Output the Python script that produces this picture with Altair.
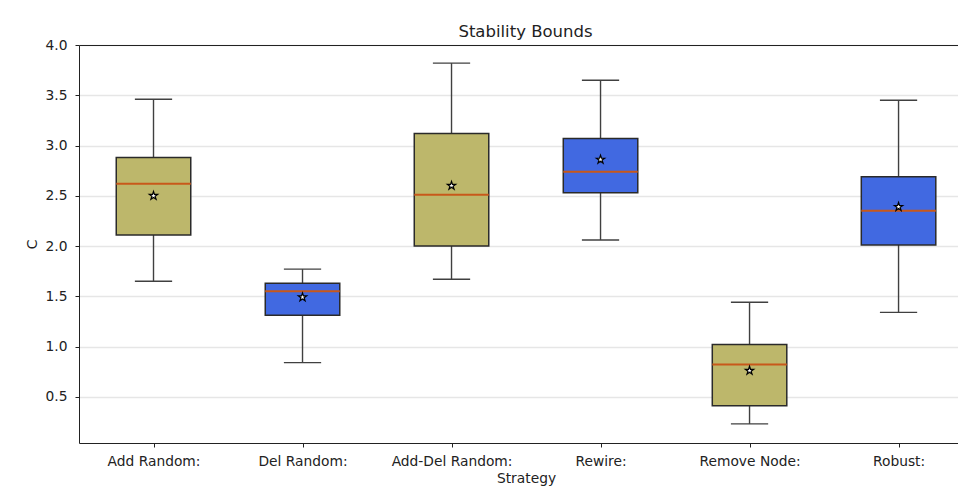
import json
import altair as alt
import pandas as pd

strategies = ["Add Random:", "Del Random:", "Add-Del Random:", "Rewire:", "Remove Node:", "Robust:"]
whisker_low = [1.65, 0.84, 1.67, 2.06, 0.23, 1.34]
q1 = [2.11, 1.31, 2.00, 2.53, 0.41, 2.01]
median = [2.62, 1.55, 2.51, 2.74, 0.82, 2.35]
q3 = [2.88, 1.63, 3.12, 3.07, 1.02, 2.69]
whisker_high = [3.46, 1.77, 3.82, 3.65, 1.44, 3.45]
means = [2.50, 1.49, 2.60, 2.86, 0.76, 2.39]
groups = ["olive", "blue", "olive", "blue", "olive", "blue"]
y_ticks = [0.5, 1.0, 1.5, 2.0, 2.5, 3.0, 3.5, 4.0]

df = pd.DataFrame({
    "strategy": strategies,
    "pos": list(range(1, len(strategies) + 1)),
    "wlo": whisker_low,
    "q1": q1,
    "med": median,
    "q3": q3,
    "whi": whisker_high,
    "mean": means,
    "group": groups,
})

FONT = "DejaVu Sans"
INK = "#2a2a2a"
WH = "#404040"

label_expr = json.dumps(strategies) + "[datum.value - 1]"
xscale = alt.Scale(domain=[0.5, 6.399], nice=False, zero=False)

x_main = alt.X("pos:Q", scale=xscale, title="Strategy",
               axis=alt.Axis(values=list(range(1, 7)), labelExpr=label_expr,
                             grid=False, orient="bottom", titleX=447,
                             domainColor="#222222", domainWidth=1,
                             tickColor="#222222", tickSize=4, tickWidth=1,
                             labelPadding=7, titlePadding=4))
x_top = alt.X("lo:Q", scale=xscale, title=None,
              axis=alt.Axis(orient="top", labels=False, ticks=False, grid=False,
                            domainColor="#222222", domainWidth=1))
x_none = lambda f: alt.X(f, scale=xscale, axis=None)

yscale = alt.Scale(domain=[0.04, 4.0], nice=False, zero=False)
y_axis = alt.Axis(values=y_ticks, format=".1f", grid=True, gridColor="#e6e6e6",
                  gridWidth=1.3, domainColor="#222222", domainWidth=1,
                  tickColor="#222222", tickSize=4, tickWidth=1, labelPadding=8,
                  titlePadding=6)

def Y(f):
    return alt.Y(f, scale=yscale, axis=y_axis, title="C")

base = alt.Chart(df).transform_calculate(
    lo="datum.pos - 0.25", hi="datum.pos + 0.25",
    clo="datum.pos - 0.125", chi="datum.pos + 0.125",
)

whisk_lo = base.mark_rule(color=WH, strokeWidth=1.4).encode(
    x=x_main, y=Y("wlo:Q"), y2="q1:Q")
whisk_hi = base.mark_rule(color=WH, strokeWidth=1.4).encode(
    x=x_none("pos:Q"), y=Y("q3:Q"), y2="whi:Q")
cap_lo = base.mark_rule(color=WH, strokeWidth=1.4).encode(
    x=x_none("clo:Q"), x2="chi:Q", y=Y("wlo:Q"))
cap_hi = base.mark_rule(color=WH, strokeWidth=1.4).encode(
    x=x_none("clo:Q"), x2="chi:Q", y=Y("whi:Q"))
boxes = base.mark_rect(stroke=INK, strokeWidth=1.5).encode(
    x=x_top, x2="hi:Q", y=Y("q1:Q"), y2="q3:Q",
    fill=alt.Fill("group:N", scale=alt.Scale(domain=["olive", "blue"],
                                             range=["#BDB76B", "#4169E1"]),
                  legend=None))
meds = base.mark_rule(color="#C8581A", strokeWidth=2).encode(
    x=x_none("lo:Q"), x2="hi:Q", y=Y("med:Q"))
star_path = ("M0,-1L0.2245,-0.309L0.951,-0.309L0.363,0.118L0.588,0.809L0,0.382"
             "L-0.588,0.809L-0.363,0.118L-0.951,-0.309L-0.2245,-0.309Z")
mean_pts = base.mark_point(shape=star_path, filled=True, fill="white",
                           stroke="black", strokeWidth=1.2, size=75, opacity=1).encode(
    x=x_none("pos:Q"), y=Y("mean:Q"))

chart = alt.layer(whisk_lo, whisk_hi, cap_lo, cap_hi, boxes, meds, mean_pts).resolve_axis(
    x="independent"
).properties(
    width=879, height=398,
    title=alt.TitleParams("Stability Bounds", fontSize=16.5, fontWeight="normal",
                          font=FONT, color="#222222", offset=-2, dx=7),
    autosize=alt.AutoSizeParams(type="none"),
    padding={"left": 71, "top": 37, "right": 0, "bottom": 45},
    background="white",
).configure_view(stroke=None).configure_axis(
    labelFont=FONT, titleFont=FONT, labelFontSize=13.8, titleFontSize=13.8,
    labelColor="#222222", titleColor="#222222", titleFontWeight="normal",
)

chart.save("out.html", embed_options={"renderer": "svg", "actions": False})
